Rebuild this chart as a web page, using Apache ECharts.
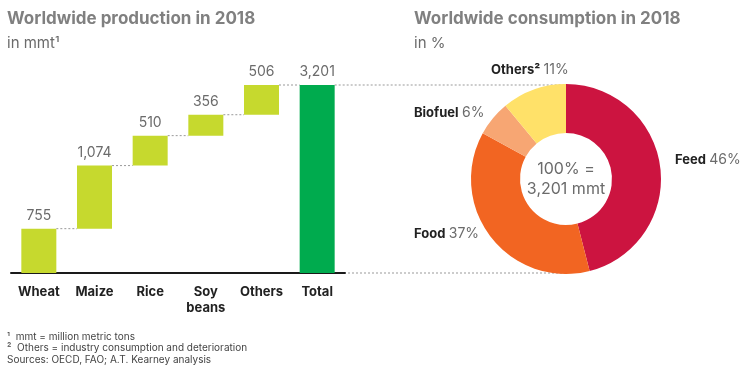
<!DOCTYPE html>
<html><head><meta charset="utf-8">
<script src="https://cdn.jsdelivr.net/npm/echarts@6/dist/echarts.min.js"></script>
<style>html,body{margin:0;padding:0;background:#fff}#c{width:747px;height:374px}</style>
</head><body><div id="c"></div>
<script>
const categories = ['Wheat', 'Maize', 'Rice', 'Soy\nbeans', 'Others', 'Total'];
const production = [755, 1074, 510, 356, 506, 3201];
const pieNames = ['Feed', 'Food', 'Biofuel', 'Others²'];
const pieValues = [46, 37, 6, 11];
const centerLines = ['100% =', '3,201 mmt'];
const footnotes = ['¹  mmt = million metric tons', '²  Others = industry consumption and deterioration', 'Sources: OECD, FAO; A.T. Kearney analysis'];

const FONT = 'Inter, "Open Sans", sans-serif';
const barColor = '#C6D92E', totalColor = '#00AB4E';
const pieColors = ['#CC1440', '#F26522', '#F7A673', '#FFE169'];
const pieCX = 566, pieCY = 179;

// waterfall bases
const bases = [];
let acc = 0;
production.forEach((v, i) => {
  if (i === production.length - 1) { bases.push(0); }
  else { bases.push(acc); acc += v; }
});
const tops = production.map((v, i) => bases[i] + v);

const chart = echarts.init(document.getElementById('c'), null, {renderer: 'canvas'});

const pieLabelPos = [
  {x: 675, y: 160, align: 'left'},
  {x: 414, y: 234, align: 'left'},
  {x: 414, y: 113, align: 'left'},
  {x: 491, y: 70, align: 'left'}
];

const graphics = [];
// titles
graphics.push({type: 'text', left: 7, top: 10, style: {text: 'Worldwide production in 2018', font: 'bold 17px ' + FONT, fill: '#808080'}});
graphics.push({type: 'text', left: 7, top: 36, style: {text: 'in mmt¹', font: '15px ' + FONT, fill: '#6b6b6b'}});
graphics.push({type: 'text', left: 414, top: 10, style: {text: 'Worldwide consumption in 2018', font: 'bold 17px ' + FONT, fill: '#808080'}});
graphics.push({type: 'text', left: 414, top: 36, style: {text: 'in %', font: '15px ' + FONT, fill: '#6b6b6b'}});
// footnotes
footnotes.forEach((t, i) => {
  graphics.push({type: 'text', left: 7, top: [332, 343, 355][i], style: {text: t, font: '10px ' + FONT, fill: '#444'}});
});
// center text
graphics.push({type: 'text', x: pieCX, y: pieCY, style: {text: centerLines.join('\n'), font: '16px ' + FONT, fill: '#6b6b6b', align: 'center', verticalAlign: 'middle', lineHeight: 20}});
// pie labels
pieNames.forEach((n, i) => {
  const p = pieLabelPos[i];
  graphics.push({type: 'text', x: p.x, y: p.y, style: {
    rich: {b: {font: 'bold 13px ' + FONT, fill: '#222'}, v: {font: '14px ' + FONT, fill: '#6b6b6b'}},
    text: '{b|' + n + '} {v|' + pieValues[i] + '%}', verticalAlign: 'middle', align: p.align
  }});
});

chart.setOption({
  animation: false,
  grid: {left: 11, top: 85, width: 334, height: 188},
  xAxis: {
    type: 'category', data: categories,
    axisLine: {lineStyle: {color: '#1a1a1a', width: 2}},
    axisTick: {show: false},
    axisLabel: {interval: 0, color: '#222', fontFamily: FONT, fontWeight: 'bold', fontSize: 13, margin: 11, lineHeight: 16}
  },
  yAxis: {type: 'value', min: 0, max: 3201, show: false, splitLine: {show: false}},
  series: [
    {type: 'bar', stack: 'w', data: bases, barWidth: 35, itemStyle: {color: 'transparent'}, silent: true},
    {type: 'bar', stack: 'w', data: production, barWidth: 35,
      itemStyle: {color: (p) => p.dataIndex === production.length - 1 ? totalColor : barColor},
      label: {show: true, position: 'top', distance: 6, color: '#6b6b6b', fontFamily: FONT, fontSize: 14,
        formatter: (p) => p.value.toLocaleString('en-US')}},
    {type: 'custom', data: tops.map((t, i) => [i, t]), encode: {x: 0, y: 1}, z: 1,
      renderItem: (params, api) => {
        const i = api.value(0), v = api.value(1);
        const p = api.coord([i, v]);
        const band = api.size([1, 0])[0];
        const style = {stroke: '#9a9a9a', lineWidth: 1, lineDash: [2, 2]};
        if (i < production.length - 1) {
          return {type: 'line', shape: {x1: p[0] + 17.5, y1: p[1], x2: p[0] + band - 17.5, y2: p[1]}, style};
        }
        const base = api.coord([i, 0]);
        return {type: 'group', children: [
          {type: 'line', shape: {x1: p[0] + 17.5, y1: p[1], x2: pieCX, y2: p[1]}, style},
          {type: 'line', shape: {x1: p[0] + band / 2 + 3, y1: base[1], x2: pieCX, y2: base[1]}, style}
        ]};
      }},
    {type: 'pie', center: [pieCX, pieCY], radius: [46, 95], startAngle: 90, clockwise: true,
      label: {show: false}, labelLine: {show: false}, silent: true,
      data: pieNames.map((n, i) => ({name: n, value: pieValues[i], itemStyle: {color: pieColors[i]}}))}
  ],
  graphic: graphics
});
</script></body></html>
